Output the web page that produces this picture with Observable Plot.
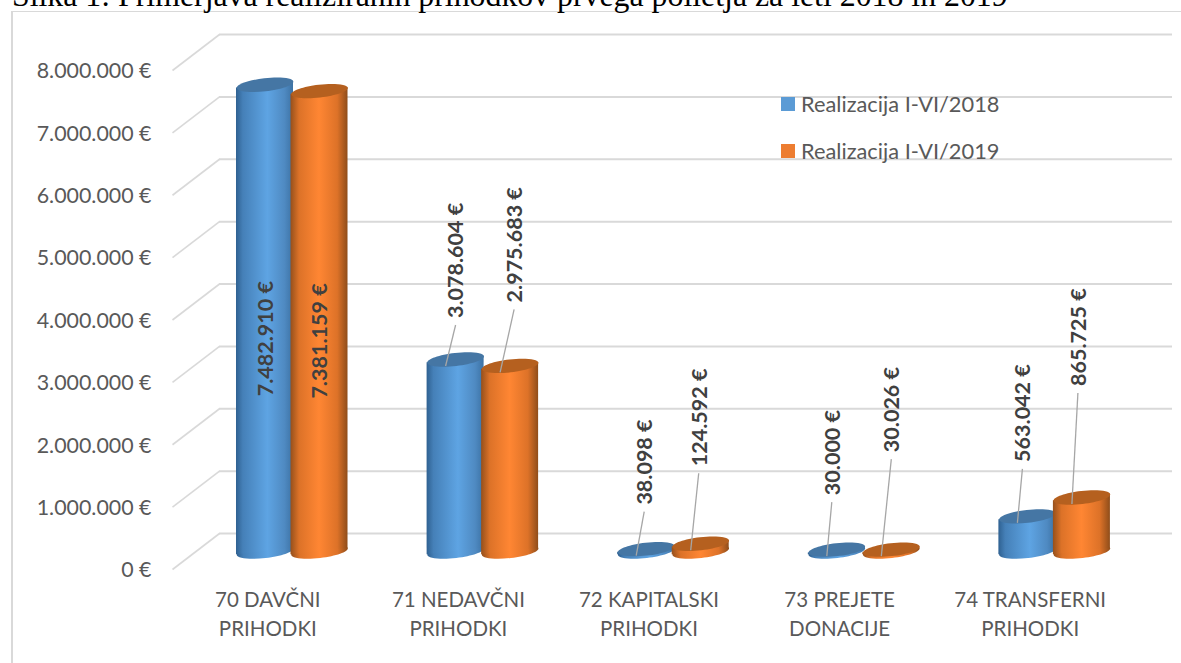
<!DOCTYPE html>
<html>
<head>
<meta charset="utf-8">
<script src="https://cdn.jsdelivr.net/npm/d3@7"></script>
<script src="https://cdn.jsdelivr.net/npm/@observablehq/plot@0.6"></script>
<style>
  html, body { margin: 0; padding: 0; background: #fff; overflow: hidden; }
  #page { position: relative; width: 1181px; height: 663px; overflow: hidden; }
  #title { position: absolute; left: 12px; top: -3px; line-height: 0; font: 29.5px/0 "Liberation Serif", serif; color: #000; white-space: nowrap; }
  #border { position: absolute; left: 11px; top: 11px; right: -4px; bottom: -4px; border-left: 2px solid #d9d9d9; border-top: 1.5px solid #d9d9d9; }
  #chart { position: absolute; left: 0; top: 0; }
  #chart svg { display: block; background: transparent; }
  .key { position: absolute; left: 781px; font: 21.8px Lato, sans-serif; color: #595959; white-space: nowrap; }
  .key i { position: absolute; left: 0; top: 6px; width: 14px; height: 14px; }
  .key span { position: absolute; left: 20px; top: 0; line-height: 26px; }
</style>
</head>
<body>
<div id="page">
  <div id="border"></div>
  <div id="title"></div>
  <div id="chart"></div>
  <div id="legend"></div>
</div>
<script>
const titleText = "Slika 1: Primerjava realiziranih prihodkov prvega polletja za leti 2018 in 2019";
const categories = ["70 DAVČNI\nPRIHODKI", "71 NEDAVČNI\nPRIHODKI", "72 KAPITALSKI\nPRIHODKI", "73 PREJETE\nDONACIJE", "74 TRANSFERNI\nPRIHODKI"];
const seriesNames = ["Realizacija I-VI/2018", "Realizacija I-VI/2019"];
const values2018 = [7482910, 3078604, 38098, 30000, 563042];
const values2019 = [7381159, 2975683, 124592, 30026, 865725];
const yTicks = [0, 1000000, 2000000, 3000000, 4000000, 5000000, 6000000, 7000000, 8000000];

// layout of the leader lines, separate from the data (pixels, per category)
const leaderRun2018 = [10.5, 10, 8, 5, 5];
const leaderRun2019 = [10, 14, 8, 10, 6];
const leaderRise2018 = [-312, 41, 44, 54, 54];
const leaderRise2019 = [-308, 63, 77, 97, 111];

const W = 1181, H = 663, mL = 219, mR = 9, mT = 34, mB = 130;
const yMax = 8000000, xMax = 5;
const perPxX = xMax / (W - mL - mR), perPxY = yMax / (H - mT - mB);
const midDx = -23.5, midDy = 18, frontDx = -47, frontDy = 36;
const halfBar = 28.5 * perPxX;
const centers = [0.362, 0.648];
const fmt = v => d3.format(",")(v).replace(/,/g, ".") + " €";

const rows = (vals, s, run, rise) => vals.map((value, i) => {
  const cx = i + centers[s];
  const footX = cx - 10 * perPxX, footY = value - 6.5 * perPxY;
  const tipX = footX + run[i] * perPxX, tipY = footY + rise[i] * perPxY;
  return {i, value, cx, footX, footY, tipX, tipY,
    labelX: tipX + 1 * perPxX, labelY: tipY + 7 * perPxY, label: fmt(value), leader: rise[i] > 0};
});
const rows2018 = rows(values2018, 0, leaderRun2018, leaderRise2018);
const rows2019 = rows(values2019, 1, leaderRun2019, leaderRise2019);

// flat, slightly tilted ellipse for the ends of the cylinders
const ellipse = {
  draw(ctx) {
    const rx = 28.5, ry = 6.5, t = -6.5 * Math.PI / 180, k = 0.5523;
    const P = (a, b) => [a * Math.cos(t) - b * Math.sin(t), a * Math.sin(t) + b * Math.cos(t)];
    ctx.moveTo(...P(rx, 0));
    ctx.bezierCurveTo(...P(rx, k * ry), ...P(k * rx, ry), ...P(0, ry));
    ctx.bezierCurveTo(...P(-k * rx, ry), ...P(-rx, k * ry), ...P(-rx, 0));
    ctx.bezierCurveTo(...P(-rx, -k * ry), ...P(-k * rx, -ry), ...P(0, -ry));
    ctx.bezierCurveTo(...P(k * rx, -ry), ...P(rx, -k * ry), ...P(rx, 0));
    ctx.closePath();
  }
};

const defs = () => {
  const g = document.createElementNS("http://www.w3.org/2000/svg", "g");
  const stops = (id, list) => `<linearGradient id="${id}" x1="0" x2="1" y1="0" y2="0">` +
    list.map(([o, c]) => `<stop offset="${o}" stop-color="${c}"/>`).join("") + `</linearGradient>`;
  g.innerHTML = "<defs>" +
    stops("gradBlue", [[0, "#2f6191"], [0.12, "#4580b8"], [0.55, "#5ea4e3"], [0.85, "#4f8ac2"], [1, "#3c72a4"]]) +
    stops("gradOrange", [[0, "#96501c"], [0.15, "#dc7228"], [0.5, "#ff8633"], [0.82, "#dd7228"], [1, "#8f4d1a"]]) +
    "</defs>";
  return g;
};

const skew = function (index, scales, values, dimensions, context, next) {
  const g = next(index, scales, values, dimensions, context);
  d3.select(g).selectAll("rect").attr("transform", function () {
    const c = +this.getAttribute("x") + +this.getAttribute("width") / 2;
    return `translate(${c},0) skewY(-6.5) translate(${-c},0)`;
  });
  return g;
};

const cylinder = (data, grad, lid) => [
  Plot.dot(data, {x: "cx", y: () => 0, symbol: ellipse, fill: `url(#${grad})`, stroke: "none", dx: midDx, dy: midDy}),
  Plot.rectY(data, {x1: d => d.cx - halfBar, x2: d => d.cx + halfBar, y1: () => 0, y2: "value", fill: `url(#${grad})`, dx: midDx, dy: midDy, render: skew}),
  Plot.dot(data, {x: "cx", y: "value", symbol: ellipse, fill: lid, stroke: "none", dx: midDx, dy: midDy})
];

const labelMarks = data => [
  Plot.link(data.filter(d => d.leader), {x1: "footX", y1: "footY", x2: "tipX", y2: "tipY", stroke: "#a6a6a6", strokeWidth: 1.3, dx: midDx, dy: midDy}),
  Plot.text(data, {x: "labelX", y: "labelY", text: "label", rotate: -90, textAnchor: "start", lineAnchor: "middle",
    fontSize: 21.5, fontWeight: 700, fill: "#404040", dx: midDx, dy: midDy})
];

const chart = Plot.plot({
  width: W, height: H,
  marginLeft: mL, marginRight: mR, marginTop: mT, marginBottom: mB,
  style: {fontFamily: "Lato, sans-serif", background: "transparent", overflow: "visible"},
  x: {domain: [0, xMax], axis: null},
  y: {domain: [0, yMax], axis: null},
  marks: [
    defs,
    Plot.ruleY(yTicks, {x1: 0, x2: xMax, stroke: "#d9d9d9", strokeWidth: 2}),
    Plot.link(yTicks, {x1: frontDx * perPxX, y1: d => d - frontDy * perPxY, x2: 0, y2: d => d, stroke: "#d9d9d9", strokeWidth: 1.6}),
    Plot.axisY({ticks: yTicks, tickSize: 0, tickPadding: 68, dy: frontDy + 1, fontSize: 21.4, color: "#595959", label: null,
      tickFormat: fmt}),
    Plot.text(categories, {x: (d, i) => i + 0.5, y: () => 0, text: d => d, lineAnchor: "top", lineHeight: 1.41, fontSize: 20.5,
      fill: "#595959", dx: frontDx, dy: 53}),
    ...cylinder(rows2018, "gradBlue", "#4576a4"),
    ...cylinder(rows2019, "gradOrange", "#b5601f"),
    ...labelMarks(rows2018),
    ...labelMarks(rows2019)
  ]
});
document.getElementById("chart").append(chart);
const titleEl = document.getElementById("title");
titleEl.textContent = titleText;
// the title fills the same width as in the reference, its baseline just above the frame
const titleSize = 29.5 * 996 / titleEl.getBoundingClientRect().width;
titleEl.style.fontSize = titleSize + "px";
titleEl.style.top = (7 - 0.3375 * titleSize) + "px";

const keyColors = ["#5b9bd5", "#ed7d31"];
const keyTops = [91, 138];
seriesNames.forEach((n, i) => {
  const d = document.createElement("div");
  d.className = "key";
  d.style.top = keyTops[i] + "px";
  d.innerHTML = `<i style="background:${keyColors[i]}"></i><span>${n}</span>`;
  document.getElementById("legend").append(d);
});
</script>
</body>
</html>
